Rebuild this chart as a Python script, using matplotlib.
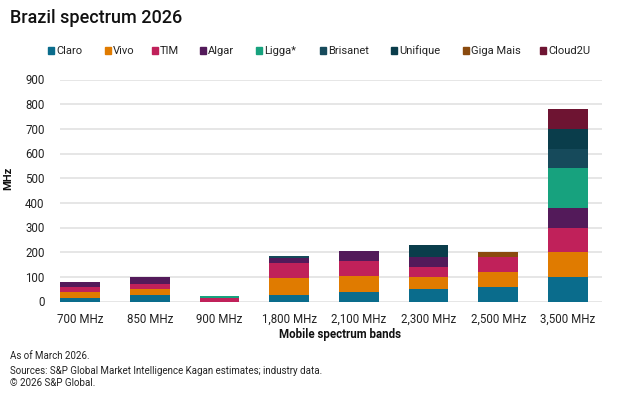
import matplotlib
matplotlib.use("Agg")
import matplotlib.pyplot as plt
from matplotlib.patches import Rectangle
import numpy as np

bands = ['700 MHz', '850 MHz', '900 MHz', '1,800 MHz', '2,100 MHz',
         '2,300 MHz', '2,500 MHz', '3,500 MHz']
operators = ['Claro', 'Vivo', 'TIM', 'Algar', 'Ligga*', 'Brisanet',
             'Unifique', 'Giga Mais', 'Cloud2U']
claro    = [16, 25, 0, 28, 40, 50, 60, 100]
vivo     = [22, 25, 0, 68, 65, 50, 60, 100]
tim      = [20, 20, 14, 60, 60, 40, 60, 100]
algar    = [22, 30, 0, 20, 40, 40, 0, 80]
ligga    = [0, 0, 10, 0, 0, 0, 0, 160]
brisanet = [0, 0, 0, 8, 0, 0, 0, 80]
unifique = [0, 0, 0, 0, 0, 50, 0, 80]
giga     = [0, 0, 0, 0, 0, 0, 20, 0]
cloud2u  = [0, 0, 0, 0, 0, 0, 0, 80]
series = [claro, vivo, tim, algar, ligga, brisanet, unifique, giga, cloud2u]
colors = ['#0a6c8c', '#e07b00', '#c0215a', '#531a5a', '#17a27e',
          '#164a5b', '#0a3d4b', '#8a4a0e', '#6e1432']
yticks = [0, 100, 200, 300, 400, 500, 600, 700, 800, 900]

plt.rcParams['font.family'] = ['Roboto', 'DejaVu Sans']

W, H = 623, 397
fig = plt.figure(figsize=(W / 100, H / 100), dpi=100)
ax = fig.add_axes([60 / W, 1 - 301.5 / H, (602 - 60) / W, (301.5 - 79.5) / H])

x = np.arange(len(bands))
bottom = np.zeros(len(bands))
for name, vals, c in zip(operators, series, colors):
    v = np.array(vals, dtype=float)
    ax.bar(x, v, 0.57, bottom=bottom, color=c, linewidth=0,
           zorder=3, label=name)
    bottom += v

ax.set_xlim(-0.29, 7.49)
ax.set_ylim(0, 900)
ax.set_yticks(yticks)
ax.set_yticklabels([str(t) for t in yticks])
ax.set_xticks(x)
ax.set_xticklabels(bands)
ax.tick_params(axis='both', length=0, labelsize=8.3, colors='#222222')
ax.tick_params(axis='y', pad=11)
ax.tick_params(axis='x', pad=8)
for s in ax.spines.values():
    s.set_visible(False)
ax.grid(axis='y', color='#e2e2e2', linewidth=1.2, zorder=0)
ax.set_axisbelow(True)

ax.set_ylabel('MHz', fontsize=8, fontweight='bold', color='#111111')
ax.yaxis.set_label_coords(-(60 - 13) / (602 - 60), (301.5 - 178) / 222)
ax.set_xlabel('Mobile spectrum bands', fontsize=8.3, fontweight='bold', color='#111111')
ax.xaxis.set_label_coords((340 - 60) / (602 - 60), -(328 - 301.5) / 222)

fig.text(10 / W, 1 - 18 / H, 'Brazil spectrum 2026', fontsize=13,
         fontweight='medium', va='center', ha='left', color='#111111')

# legend
leg_x = [48, 105, 152, 200, 256, 320, 391, 463, 540]
for name, c, lx in zip(operators, colors, leg_x):
    fig.patches.append(Rectangle((lx / W, 1 - 53.5 / H), 6 / W, 6 / H,
                                 transform=fig.transFigure, color=c,
                                 figure=fig))
    fig.text((lx + 8) / W, 1 - 50.5 / H, name, fontsize=8, va='center',
             ha='left', color='#222222')

foot = ['As of March 2026.',
        'Sources: S&P Global Market Intelligence Kagan estimates; industry data.',
        '\u00a9 2026 S&P Global.']
for txt, yy in zip(foot, [356, 371, 383]):
    fig.text(10 / W, 1 - yy / H, txt, fontsize=7, va='center', ha='left',
             color='#222222')

fig.savefig('out.png', dpi=100, facecolor='white')
